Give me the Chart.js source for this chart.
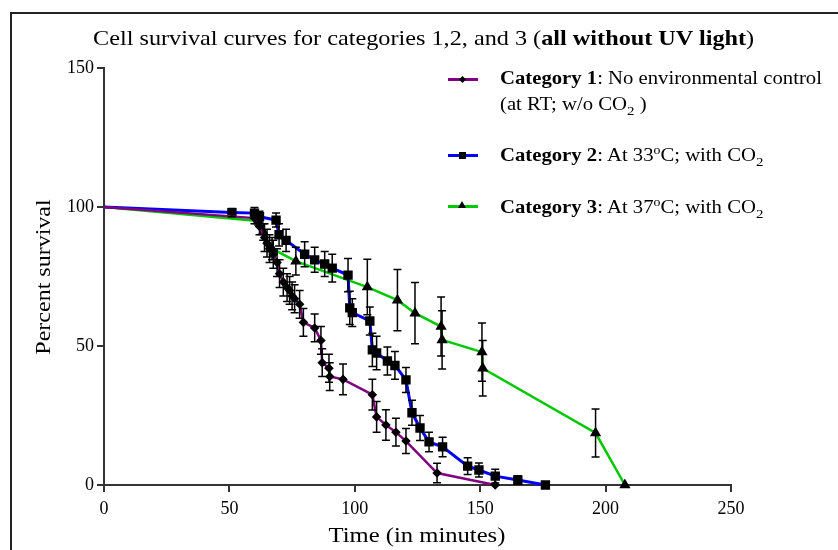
<!DOCTYPE html>
<html>
<head>
<meta charset="utf-8">
<script src="https://cdn.jsdelivr.net/npm/chart.js@4.4.1/dist/chart.umd.min.js"></script>
<style>
    body { margin: 0; background: #fff; }
    #wrap { position: relative; width: 838px; height: 550px; overflow: hidden; font-family: "Liberation Serif", "Times New Roman", serif; color: #000; }
    #frame { position: absolute; left: 10px; top: 12px; width: 900px; height: 600px; border-left: 2px solid #222; border-top: 2px solid #222; }
    #titulo { position: absolute; left: 93px; top: 26px; font-size: 21px; white-space: nowrap; transform: scaleX(1.154); transform-origin: 0 0; }
    .leg { position: absolute; left: 500px; font-size: 18px; white-space: nowrap; transform: scaleX(1.15); transform-origin: 0 0; }
    .traco { position: absolute; left: 448px; width: 30px; height: 3px; }
    .marca { position: absolute; background: #000; }
    #eixoX { position: absolute; left: 417px; top: 524px; font-size: 20px; white-space: nowrap; transform: translateX(-50%) scaleX(1.23); }
    #eixoY { position: absolute; left: 43px; top: 277px; font-size: 20px; white-space: nowrap; transform: translate(-50%, -50%) rotate(-90deg) scaleX(1.2); }
    canvas { position: absolute; left: 0; top: 0; }
</style>
</head>
<body>
<div id="wrap">
    <canvas id="grafico" width="838" height="550"></canvas>
    <div id="frame"></div>
    <div id="titulo">Cell survival curves for categories 1,2, and 3 (<b>all without UV light</b>)</div>
    <div id="eixoY">Percent survival</div>
    <div id="eixoX">Time (in minutes)</div>

    <div class="traco" style="top:78px;background:#800080"></div>
    <div class="marca" style="left:460px;top:77px;width:5px;height:5px;transform:rotate(45deg)"></div>
    <div class="leg" style="top:68px"><b>Category 1</b>: No environmental control</div>
    <div class="leg" style="top:94px">(at RT; w/o CO<sub style="font-size:13px">2</sub> )</div>

    <div class="traco" style="top:154px;background:#0000ff"></div>
    <div class="marca" style="left:459px;top:152px;width:7px;height:7px"></div>
    <div class="leg" style="top:143px"><b>Category 2</b>: At 33<sup style="font-size:12px">o</sup>C; with CO<sub style="font-size:13px">2</sub></div>

    <div class="traco" style="top:205px;background:#00c800"></div>
    <div class="marca" style="left:458px;top:201px;width:0;height:0;background:none;border-left:4px solid transparent;border-right:4px solid transparent;border-bottom:7px solid #000"></div>
    <div class="leg" style="top:195px"><b>Category 3</b>: At 37<sup style="font-size:12px">o</sup>C; with CO<sub style="font-size:13px">2</sub></div>
</div>
<script>
// categoria 1 - sem controle ambiental
const tempo1 = [0, 60, 62, 64, 65, 66, 67.5, 69, 70, 71.5, 73, 74, 75, 76, 78, 79.5, 84, 86.5, 87, 89.7, 90, 95.3, 107, 108.7, 112.4, 116.4, 120.4, 132.8, 156]
const sobrev1 = [100, 96, 93, 89, 87, 85, 83, 80, 76, 73, 71, 70, 68, 67, 65, 58.5, 56.5, 52, 44, 42, 39, 38, 32.5, 24.5, 21.6, 19, 15.8, 4.3, 0]
const erro1 = [0, 2, 3, 5, 5, 5, 5, 5, 5, 5, 5, 5, 5, 5, 5, 5, 5, 5, 5, 5, 5, 5.5, 5.5, 5.5, 5.5, 5, 4.5, 3.5, 0]

// categoria 2 - 33 graus com CO2
const tempo2 = [0, 51, 60, 62, 68.6, 69.8, 72.6, 80, 84, 88, 91, 97.3, 98, 99, 106, 107, 108.7, 113, 116, 120.4, 122.8, 126, 129.6, 135, 145, 149.5, 156, 165, 176]
const sobrev2 = [100, 98, 97.8, 96.5, 95.3, 90, 88, 83, 81, 79.5, 78, 75.5, 63.7, 62, 59, 48.6, 47.5, 44.6, 43, 37.8, 26, 20.5, 15.5, 13.7, 6.8, 5.4, 3.2, 1.8, 0]
const erro2 = [0, 1.5, 2, 2, 2.5, 4, 4, 4.5, 4.5, 4.5, 5, 6, 6, 5, 5, 6, 6, 5, 5, 4.5, 4.5, 4.5, 3.5, 3.5, 3, 2.5, 2.5, 1.5, 0.5]

// categoria 3 - 37 graus com CO2
const tempo3 = [0, 61.5, 63.5, 67, 76.5, 105, 117, 124, 134.4, 134.8, 150.7, 151, 196, 207.7]
const sobrev3 = [100, 95, 91, 85, 80.5, 71.2, 66.5, 61.8, 57, 52.2, 47.8, 42, 18.7, 0]
const erro3 = [0, 1.5, 3, 4, 5, 10, 11, 11, 10.6, 10.5, 10.5, 10, 8.6, 0]

const ticksX = [0, 50, 100, 150, 200, 250]
const ticksY = [0, 50, 100, 150]

function pontos(xs, ys) {
    return xs.map((v, i) => ({ x: v, y: ys[i] }))
}

// o ponto inicial (0,100) nao tem marcador
function raios(xs, r) {
    return xs.map((v, i) => i === 0 ? 0 : r)
}

const fonte = "'Liberation Serif', 'Times New Roman', serif"

// barras de erro desenhadas pelas escalas do proprio chart
const barrasErro = {
    id: "barrasErro",
    afterDatasetsDraw(chart) {
        const ctx = chart.ctx
        const x = chart.scales.x
        const y = chart.scales.y
        ctx.save()
        ctx.strokeStyle = "#000"
        ctx.lineWidth = 1.5
        chart.data.datasets.forEach((ds) => {
            ds.erros.forEach((e, j) => {
                if (!e) return
                const p = ds.data[j]
                const px = x.getPixelForValue(p.x)
                const topo = y.getPixelForValue(p.y + e)
                const base = y.getPixelForValue(p.y - e)
                ctx.beginPath()
                ctx.moveTo(px, topo); ctx.lineTo(px, base)
                ctx.moveTo(px - 4, topo); ctx.lineTo(px + 4, topo)
                ctx.moveTo(px - 4, base); ctx.lineTo(px + 4, base)
                ctx.stroke()
            })
        })
        ctx.restore()
    }
}

const grafico = document.getElementById("grafico")

new Chart(grafico, {
    type: "line",
    data: {
        datasets: [{
            label: "Category 1",
            data: pontos(tempo1, sobrev1),
            erros: erro1,
            borderColor: "#800080",
            borderWidth: 2.5,
            pointStyle: "rectRot",
            pointRadius: raios(tempo1, 3),
            pointBackgroundColor: "#000",
            pointBorderColor: "#000",
            clip: false
        }, {
            label: "Category 2",
            data: pontos(tempo2, sobrev2),
            erros: erro2,
            borderColor: "#0000ff",
            borderWidth: 3,
            pointStyle: "rect",
            pointRadius: raios(tempo2, 4.5),
            pointBackgroundColor: "#000",
            pointBorderColor: "#000",
            clip: false
        }, {
            label: "Category 3",
            data: pontos(tempo3, sobrev3),
            erros: erro3,
            borderColor: "#00c800",
            borderWidth: 2.5,
            pointStyle: "triangle",
            pointRadius: raios(tempo3, 4),
            pointBackgroundColor: "#000",
            pointBorderColor: "#000",
            clip: false
        }]
    },
    options: {
        responsive: false,
        animation: false,
        layout: { padding: { left: 0, right: 107, top: 68, bottom: 0 } },
        elements: { line: { tension: 0 } },
        plugins: {
            legend: { display: false },
            title: { display: false },
            tooltip: { enabled: false }
        },
        scales: {
            x: {
                type: "linear",
                min: 0,
                max: 250,
                afterBuildTicks: (s) => { s.ticks = ticksX.map(v => ({ value: v })) },
                afterFit: (s) => { s.height = 65 },
                ticks: { color: "#000", font: { family: fonte, size: 18 }, padding: 6 },
                grid: { drawOnChartArea: false, drawTicks: true, tickLength: 7, color: "#333", lineWidth: 2 },
                border: { display: true, color: "#333", width: 2 }
            },
            y: {
                min: 0,
                max: 150,
                afterBuildTicks: (s) => { s.ticks = ticksY.map(v => ({ value: v })) },
                afterFit: (s) => { s.width = 104 },
                ticks: { color: "#000", font: { family: fonte, size: 18 }, padding: 3 },
                grid: { drawOnChartArea: false, drawTicks: true, tickLength: 7, color: "#333", lineWidth: 2 },
                border: { display: true, color: "#333", width: 2 }
            }
        }
    },
    plugins: [barrasErro]
});
</script>
</body>
</html>
